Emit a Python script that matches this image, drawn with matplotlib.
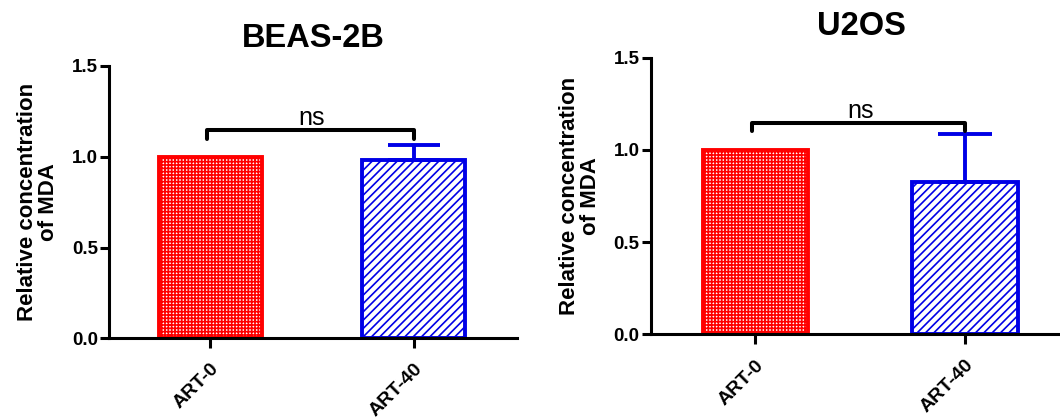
import matplotlib
matplotlib.use('Agg')
import matplotlib.pyplot as plt
from matplotlib.transforms import ScaledTranslation

plt.rcParams['font.family'] = ['Liberation Sans', 'DejaVu Sans']
plt.rcParams['hatch.linewidth'] = 1.2

# values
groups = ['ART-0', 'ART-40']
beas_means = [1.0, 0.983]
beas_errors = [0.0, 0.083]
u2os_means = [1.0, 0.826]
u2os_errors = [0.0, 0.259]
y_ticks = [0.0, 0.5, 1.0, 1.5]
bar_colors = ['#ff0000', '#0000e6']
bar_hatches = ['+++++', '////']


def draw_panel(figure, axis, title, means, errors, bracket_y, bracket_drop, capsize, title_pad):
	'''
	Draw one bar panel with its upper-only error bars and the ns bracket.
	'''
	positions = list(range(len(groups)))
	for index, position in enumerate(positions):
		axis.bar(position, means[index], width=0.505, facecolor='white',
		         edgecolor=bar_colors[index], hatch=bar_hatches[index],
		         linewidth=2.8, zorder=2)
		if errors[index] > 0:
			axis.errorbar(position, means[index], yerr=[[0], [errors[index]]],
			              color=bar_colors[index], elinewidth=2.8, capsize=capsize,
			              capthick=2.8, zorder=3)
	axis.plot([-0.015, -0.015, 1, 1],
	          [bracket_y - bracket_drop, bracket_y, bracket_y, bracket_y - bracket_drop],
	          color='black', linewidth=2.9, solid_capstyle='round',
	          solid_joinstyle='round', zorder=4)
	axis.text(0.5, bracket_y + 0.027, 'ns', ha='center', va='baseline', fontsize=18)
	axis.set_title(title, fontsize=23.5, fontweight='bold', pad=title_pad)
	axis.set_xlim(-0.5, 1.51)
	axis.set_ylim(0, 1.5)
	axis.set_yticks(y_ticks)
	axis.set_yticklabels([f'{tick:.1f}' for tick in y_ticks], fontweight='bold', fontsize=13.5)
	axis.set_xticks(positions)
	axis.set_xticklabels(groups, rotation=45, ha='right', va='top', rotation_mode='anchor',
	                     fontweight='bold', fontsize=14)
	shift = ScaledTranslation(0.05, 0, figure.dpi_scale_trans)
	for label in axis.get_xticklabels():
		label.set_transform(label.get_transform() + shift)
	axis.set_ylabel('Relative concentration\nof MDA', fontweight='bold', fontsize=16,
	                linespacing=1.0, labelpad=9)
	axis.spines['top'].set_visible(False)
	axis.spines['right'].set_visible(False)
	axis.spines['left'].set_linewidth(2.2)
	axis.spines['bottom'].set_linewidth(2.2)
	axis.tick_params(axis='y', width=2.2, length=6.5, pad=1.5)
	axis.tick_params(axis='x', width=2.2, length=7, pad=9)


figure = plt.figure(figsize=(10.6, 4.19), dpi=100)
left_axis = figure.add_axes([0.1028, 0.1926, 0.385, 0.650])
right_axis = figure.add_axes([0.6139, 0.2021, 0.397, 0.660])

draw_panel(figure, left_axis, 'BEAS-2B', beas_means, beas_errors, 1.146, 0.046, 19, 14)
draw_panel(figure, right_axis, 'U2OS', u2os_means, u2os_errors, 1.145, 0.04, 19.5, 16.5)

figure.savefig('out.png', dpi=100)
